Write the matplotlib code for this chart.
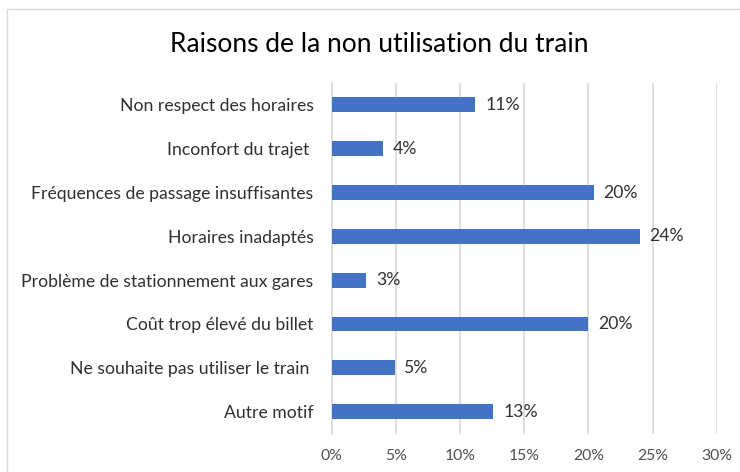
import matplotlib
matplotlib.use("Agg")
import matplotlib.pyplot as plt
from matplotlib.patches import Rectangle

categories = [
    "Non respect des horaires",
    "Inconfort du trajet ",
    "Fréquences de passage insuffisantes",
    "Horaires inadaptés",
    "Problème de stationnement aux gares",
    "Coût trop élevé du billet",
    "Ne souhaite pas utiliser le train ",
    "Autre motif",
]
values = [11.2, 4.0, 20.4, 24.0, 2.7, 20.0, 4.9, 12.6]
xticks = [0, 5, 10, 15, 20, 25, 30]
title = "Raisons de la non utilisation du train"

plt.rcParams['font.family'] = ['Lato', 'DejaVu Sans']

fig = plt.figure(figsize=(7.4, 4.72), dpi=100)
fig.patches.append(Rectangle((7/740, -0.1), 1.2, 1 - 9/472 + 0.1, transform=fig.transFigure,
                             fill=False, edgecolor="#d9d9d9", linewidth=1.0))
ax = fig.add_axes([331.7/740, 1 - 433.5/472, (716.7-331.7)/740, (433.5-83)/472])

n = len(categories)
ypos = list(range(n))
ax.barh(ypos, values, height=0.34, color="#4472C4", zorder=3)
ax.set_ylim(n - 0.5, -0.5)
ax.set_xlim(0, 30)
ax.set_xticks(xticks)
ax.set_xticklabels([f"{t}%" for t in xticks])
ax.set_yticks(ypos)
ax.set_yticklabels(categories)
ax.tick_params(axis='y', length=0, pad=13, labelsize=12.7, labelcolor="#303030")
ax.tick_params(axis='x', length=0, pad=11, labelsize=11.3, labelcolor="#505050")
ax.grid(axis='x', color="#d9d9d9", linewidth=1.2, zorder=0)
for s in ['top', 'right', 'bottom']:
    ax.spines[s].set_visible(False)
ax.spines['left'].set_color("#d9d9d9")
ax.spines['left'].set_linewidth(1.2)

for y, v in zip(ypos, values):
    ax.annotate(f"{v:.0f}%", (v, y), xytext=(7, 0), textcoords="offset points",
                va="center", ha="left", fontsize=12.7, color="#303030")

fig.text(379/740, 1 - 45/472, title, ha="center", va="center", fontsize=19, color="#000000")

fig.savefig("out.png", dpi=100)
